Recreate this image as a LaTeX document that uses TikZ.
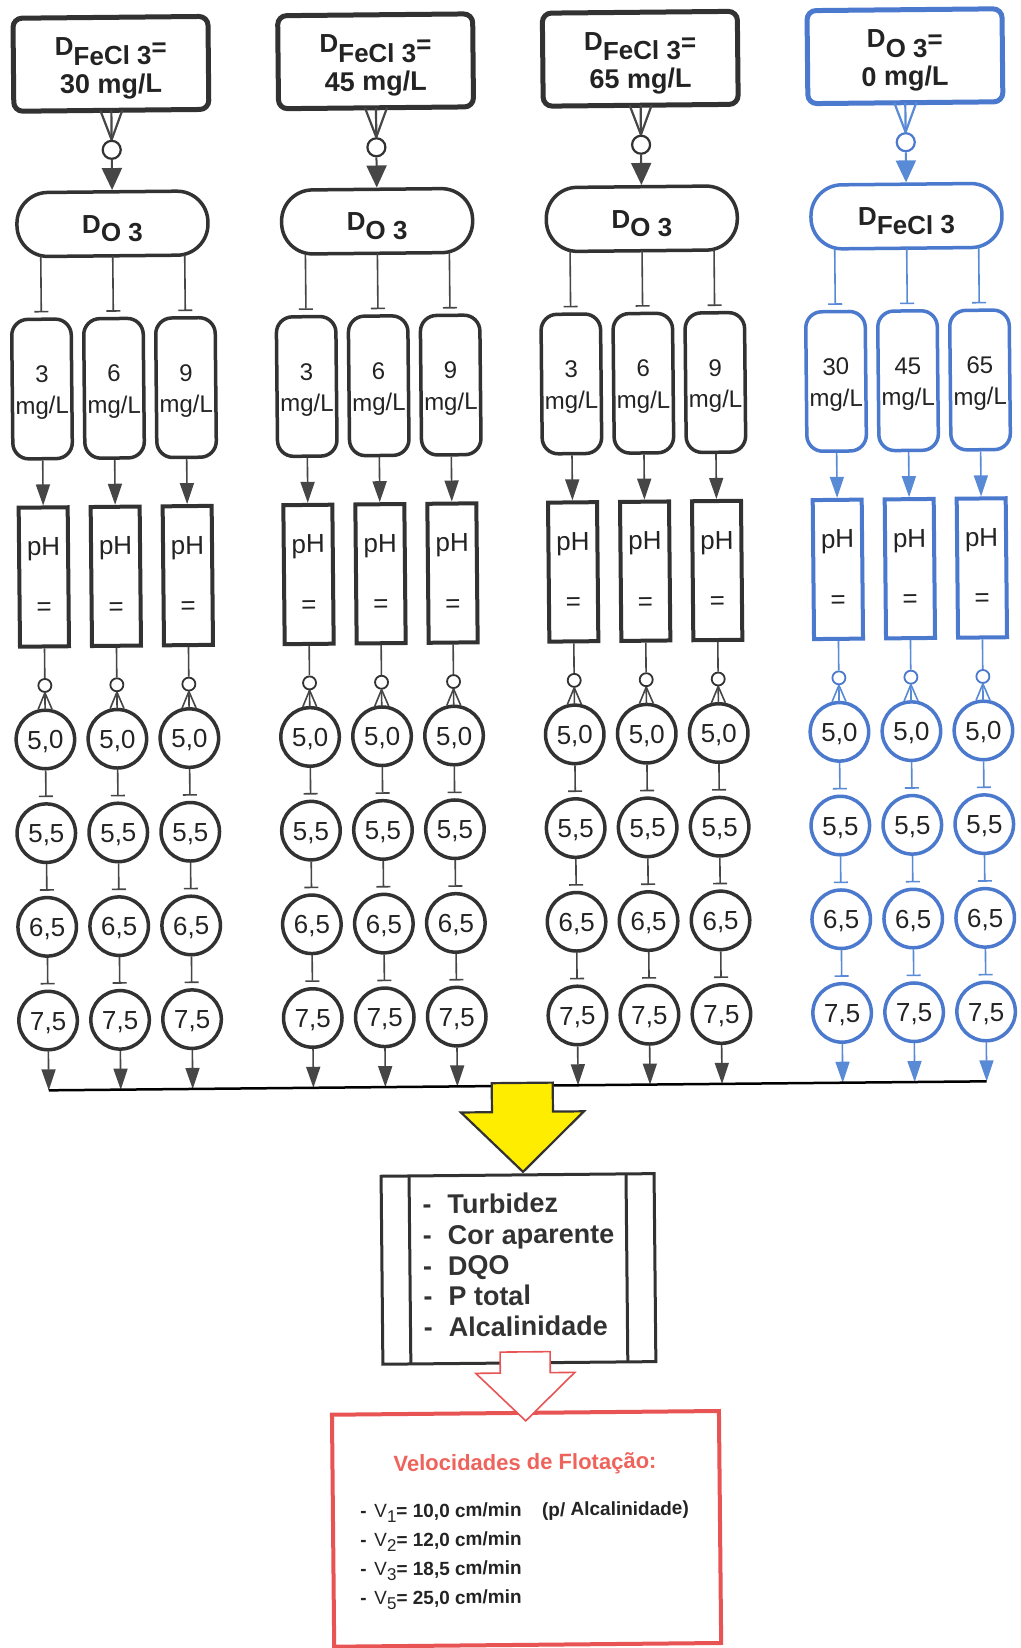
\documentclass[tikz,border=0pt]{standalone}
\usepackage{fontspec}
\setmainfont{Liberation Sans}
\usetikzlibrary{arrows.meta}
\definecolor{dk}{RGB}{50,50,50}
\definecolor{ln}{RGB}{70,70,70}
\definecolor{bl}{RGB}{74,121,205}
\definecolor{blt}{RGB}{88,138,214}
\definecolor{yl}{RGB}{255,237,0}
\definecolor{rd}{RGB}{232,84,84}
\definecolor{rdt}{RGB}{238,100,92}
\definecolor{tx}{RGB}{35,35,35}
\newcommand\fsz[1]{\fontsize{#1pt}{#1pt}\selectfont}
\tikzset{
  topbox/.style={draw=#1, line width=5pt, rounded corners=9pt, minimum width=195pt, minimum height=93pt, inner sep=0pt},
  stad/.style={draw=#1, line width=3.5pt, rounded corners=31pt, minimum width=191pt, minimum height=64pt, inner sep=0pt},
  caps/.style={draw=#1, line width=3.5pt, rounded corners=16pt, minimum width=59.5pt, minimum height=139.5pt, inner sep=0pt},
  phbox/.style={draw=#1, line width=4pt, minimum width=49pt, minimum height=139pt, inner sep=0pt},
  pcirc/.style={draw=#1, circle, line width=3.5pt, minimum size=58.5pt, inner sep=0pt},
  scirc/.style={draw=#1, circle, line width=1.8pt, minimum size=13pt, inner sep=0pt},
  ocirc/.style={draw=#1, circle, line width=2.2pt, minimum size=18pt, inner sep=0pt},
  txt/.style={inner sep=0pt, text=tx},
  conn/.style={draw=#1, line width=1.6pt},
  tiptri/.style={-{Triangle[width=14pt,length=21pt]}},
  bigtip/.style={-{Triangle[width=20pt,length=22pt]}},
  tickend/.style={-{Bar[width=14pt]}, shorten >=5pt},
  partxt/.style={inner sep=0pt, text=dk, anchor=base west, font=\bfseries\fsz{27}},
  veltxt/.style={inner sep=0pt, text=tx, anchor=base west, font=\bfseries\fsz{19}},
}
\newcommand\drawgroup[8]{%
  \node[topbox=#3] (g#1top) at (#2,60) {};
  \node[txt, font=\bfseries\fsz{26}, anchor=base] (g#1tA) at (#2,51) {#5};
  \node[txt, font=\bfseries\fsz{27}, anchor=base] (g#1tB) at (#2,89.5) {#6};
  \node[ocirc=#3] (g#1o) at (#2,146) {};
  \coordinate (g#1pL) at (#2-11,106.5);
  \coordinate (g#1pM) at (#2,106.5);
  \coordinate (g#1pR) at (#2+11,106.5);
  \foreach \pp in {L,M,R} {\draw[conn=#4, line width=2.2pt] (g#1p\pp) -- (g#1o.north);}
  \node[stad=#3] (g#1st) at (#2,220) {};
  \node[txt, font=\bfseries\fsz{26}, anchor=base] (g#1stT) at (#2,229) {#7};
  \draw[conn=#4, line width=2pt, bigtip] (g#1o.south) -- (g#1st.north);
  \foreach \ci/\vv in {#8} {%
    \pgfmathsetmacro\cx{#2+(\ci-2)*72}
    \coordinate (g#1a\ci) at (\cx,252);
    \node[caps=#3] (g#1c\ci) at (\cx,384.5) {};
    \node[txt, font=\fsz{24}, anchor=base] (g#1v\ci) at (\cx,378) {\vv};
    \node[txt, font=\fsz{24}, anchor=base] (g#1u\ci) at (\cx,409.5) {mg/L};
    \draw[conn=#4, tickend] (g#1a\ci) -- (g#1c\ci.north);
    \node[phbox=#3] (g#1h\ci) at (\cx,572.5) {};
    \node[txt, font=\fsz{26}, anchor=base] (g#1hA\ci) at (\cx,551) {pH};
    \node[txt, font=\fsz{26}] (g#1hB\ci) at (\cx,605) {=};
    \draw[conn=#4, tiptri] (g#1c\ci.south) -- (g#1h\ci.north);
    \node[scirc=#3] (g#1s\ci) at (\cx,681) {};
    \draw[conn=#4] (g#1h\ci.south) -- (g#1s\ci.north);
    \foreach \ri/\val in {1/{5,0},2/{5,5},3/{6,5},4/{7,5}} {%
      \pgfmathsetmacro\ry{735+(\ri-1)*93.7}
      \node[pcirc=#3] (g#1k\ci-\ri) at (\cx,\ry) {};
      \node[txt, font=\fsz{26}, anchor=base] (g#1kt\ci-\ri) at (\cx,\ry+9.5) {\val};
      \ifnum\ri>1
        \pgfmathtruncatemacro\rp{\ri-1}
        \draw[conn=#4, tickend] (g#1k\ci-\rp.south) -- (g#1k\ci-\ri.north);
      \fi
    }
    \foreach \dx/\qx in {-7/L,0/M,7/R} {%
      \coordinate (g#1f\ci\qx) at (\cx+\dx,705);
      \draw[conn=#4] (g#1s\ci.south) -- (g#1f\ci\qx);
    }
    \coordinate (g#1e\ci) at (\cx,1086);
    \draw[conn=#4, tiptri] (g#1k\ci-4.south) -- (g#1e\ci);
  }%
}
\begin{document}
\begin{tikzpicture}[x=1pt,y=-1pt]
\fill[white] (0,0) rectangle (1020,1648);
\useasboundingbox (0,0) rectangle (1020,1648);
\begin{scope}[rotate around={0.55:(510,824)}, transform shape]
  \coordinate (bl) at (46.2,1086);
  \coordinate (br) at (984.3,1086);
  \drawgroup{1}{118.2}{dk}{ln}{D\raisebox{-10pt}{FeCl 3}\raisebox{-2pt}{=}}{30 mg/L}{D\raisebox{-9pt}{O 3}}{1/3,2/6,3/9}
  \drawgroup{2}{382.9}{dk}{ln}{D\raisebox{-10pt}{FeCl 3}\raisebox{-2pt}{=}}{45 mg/L}{D\raisebox{-9pt}{O 3}}{1/3,2/6,3/9}
  \drawgroup{3}{647.6}{dk}{ln}{D\raisebox{-10pt}{FeCl 3}\raisebox{-2pt}{=}}{65 mg/L}{D\raisebox{-9pt}{O 3}}{1/3,2/6,3/9}
  \drawgroup{4}{912.3}{bl}{blt}{D\raisebox{-10pt}{O 3}\raisebox{-2pt}{=}}{0 mg/L}{D\raisebox{-9pt}{FeCl 3}}{1/30,2/45,3/65}
  \draw[black, line width=2.5pt] (bl) -- (br);
  % yellow block arrow
  \filldraw[fill=yl, draw=dk, line width=2.2pt, line join=miter]
    (489.2,1083) -- (550.2,1083) -- (550.2,1112) -- (581.2,1112) -- (519.7,1172)
    -- (458.2,1112) -- (489.2,1112) -- cycle;
  % parameters box
  \node[draw=dk, line width=3pt, minimum width=273pt, minimum height=188pt, inner sep=0pt] (par) at (514.2,1269) {};
  \coordinate (parA) at (405.7,1175);
  \coordinate (parB) at (405.7,1363);
  \coordinate (parC) at (622.7,1175);
  \coordinate (parD) at (622.7,1363);
  \draw[dk, line width=3pt] (parA) -- (parB);
  \draw[dk, line width=3pt] (parC) -- (parD);
  \node[partxt] (p1) at (418.7,1213) {\makebox[25pt][l]{-}Turbidez};
  \node[partxt] (p2) at (418.7,1244) {\makebox[25pt][l]{-}Cor aparente};
  \node[partxt] (p3) at (418.7,1274.5) {\makebox[25pt][l]{-}DQO};
  \node[partxt] (p4) at (418.7,1305) {\makebox[25pt][l]{-}P total};
  \node[partxt] (p5) at (418.7,1336) {\makebox[25pt][l]{-}Alcalinidade};
  % result box
  \node[draw=rd, line width=4pt, minimum width=387pt, minimum height=232pt, inner sep=0pt] (res) at (519.8,1529) {};
  \node[txt, text=rdt, font=\bfseries\fsz{22}, anchor=base] (rtitle) at (518.9,1470) {Velocidades de Flotação:};
  \node[veltxt] (v1) at (353.5,1516.5) {\makebox[14pt][l]{-}{\mdseries V\raisebox{-5pt}{\fsz{17}1}}= 10,0 cm/min};
  \node[veltxt] (v1b) at (535.3,1516.5) {(p/ Alcalinidade)};
  \node[veltxt] (v2) at (353.3,1545.5) {\makebox[14pt][l]{-}{\mdseries V\raisebox{-5pt}{\fsz{17}2}}= 12,0 cm/min};
  \node[veltxt] (v3) at (353,1574.5) {\makebox[14pt][l]{-}{\mdseries V\raisebox{-5pt}{\fsz{17}3}}= 18,5 cm/min};
  \node[veltxt] (v5) at (352.7,1603.5) {\makebox[14pt][l]{-}{\mdseries V\raisebox{-5pt}{\fsz{17}5}}= 25,0 cm/min};
  % red hollow arrow
  \filldraw[fill=white, draw=rd, line width=1.6pt, line join=miter]
    (495,1352) -- (545,1352) -- (545,1373) -- (569.5,1373) -- (520,1421)
    -- (470.5,1373) -- (495,1373) -- cycle;
\end{scope}
\end{tikzpicture}
\end{document}
